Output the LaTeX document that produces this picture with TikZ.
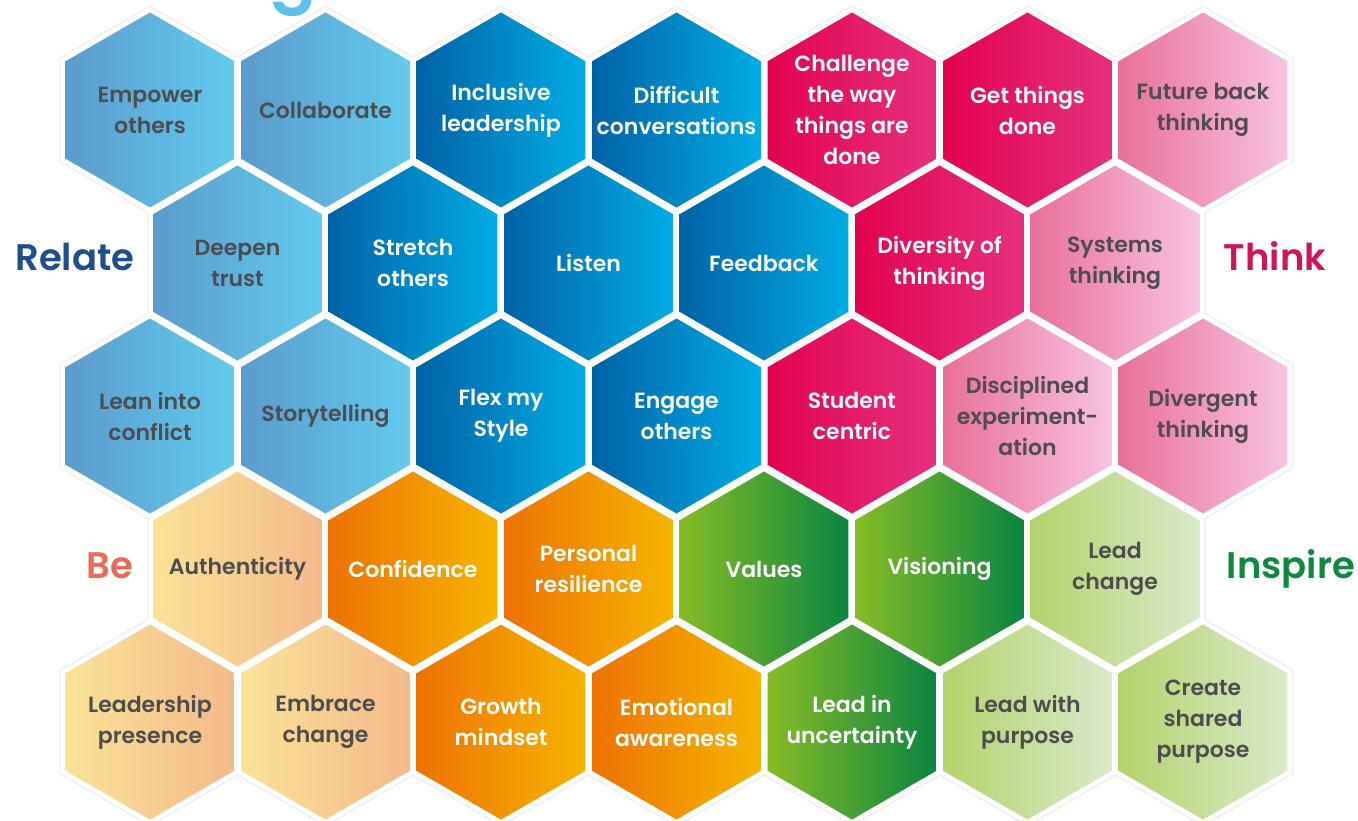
\documentclass[tikz,border=0pt]{standalone}
\usepackage{fontspec}
\setmainfont{Poppins}[UprightFont={* Medium}, BoldFont={* SemiBold}]
\usetikzlibrary{shapes.geometric, backgrounds}

\definecolor{inkgray}{HTML}{4D4D4F}
\definecolor{rimgray}{HTML}{EEEEEE}
\definecolor{relateblue}{HTML}{1F4E8C}
\definecolor{thinkpink}{HTML}{D1135E}
\definecolor{bered}{HTML}{E86A5A}
\definecolor{inspiregreen}{HTML}{0E8A40}
\definecolor{titleblue}{HTML}{5BC0EB}

\begin{document}
\begin{tikzpicture}[
    x=1pt, y=-1pt,
    hex/.style={regular polygon, regular polygon sides=6, shape border rotate=30,
        minimum size=195pt, inner sep=0pt},
    every label/.style={align=center, font=\fontsize{22}{31}\selectfont\bfseries},
    ink/.style={text=inkgray},
    relatesoft/.style={left color={rgb,255:red,91;green,155;blue,203}, right color={rgb,255:red,98;green,203;blue,238}},
    relatedeep/.style={left color={rgb,255:red,0;green,98;blue,166}, right color={rgb,255:red,0;green,172;blue,228}},
    thinkdeep/.style={left color={rgb,255:red,226;green,3;blue,79}, right color={rgb,255:red,229;green,48;blue,127}},
    thinksoft/.style={left color={rgb,255:red,232;green,112;blue,154}, right color={rgb,255:red,248;green,195;blue,225}},
    besoft/.style={left color={rgb,255:red,251;green,226;blue,151}, right color={rgb,255:red,243;green,186;blue,138}},
    bedeep/.style={left color={rgb,255:red,238;green,114;blue,3}, right color={rgb,255:red,246;green,180;blue,0}},
    inspiredeep/.style={left color={rgb,255:red,134;green,188;blue,37}, right color={rgb,255:red,10;green,133;blue,64}},
    inspiresoft/.style={left color={rgb,255:red,178;green,211;blue,108}, right color={rgb,255:red,217;green,234;blue,200}},
    heading/.style={anchor=base, font=\fontsize{37}{40}\selectfont\bfseries}
]
    \useasboundingbox (0,0) rectangle (1358,821);

    % Tail of the title above
    \node[anchor=base, text=titleblue, font=\fontsize{70}{70}\selectfont\bfseries] (title) at (293,-2) {g};

    % Row 1
    \node[hex, relatesoft, label={[ink]center:Empower\\others}] (empower) at (150,110) {};
    \node[hex, relatesoft, label={[ink]center:Collaborate}] (collaborate) at (325.5,110) {};
    \node[hex, relatedeep, label={[text=white]center:Inclusive\\leadership}] (inclusive) at (501,110) {};
    \node[hex, relatedeep, label={[text=white]center:Difficult\\conversations}] (difficult) at (676.5,110) {};
    \node[hex, thinkdeep, label={[text=white]center:Challenge\\the way\\things are\\done}] (challenge) at (852,110) {};
    \node[hex, thinkdeep, label={[text=white]center:Get things\\done}] (getdone) at (1027.5,110) {};
    \node[hex, thinksoft, label={[ink]center:Future back\\thinking}] (futureback) at (1203,110) {};

    % Row 2
    \node[hex, relatesoft, label={[ink]center:Deepen\\trust}] (deepen) at (237.5,263) {};
    \node[hex, relatedeep, label={[text=white]center:Stretch\\others}] (stretch) at (413,263) {};
    \node[hex, relatedeep, label={[text=white]center:Listen}] (listen) at (588.5,263) {};
    \node[hex, relatedeep, label={[text=white]center:Feedback}] (feedback) at (764,263) {};
    \node[hex, thinkdeep, label={[text=white]center:Diversity of\\thinking}] (diversity) at (939.5,263) {};
    \node[hex, thinksoft, label={[ink]center:Systems\\thinking}] (systems) at (1115,263) {};

    % Row 3
    \node[hex, relatesoft, label={[ink]center:Lean into\\conflict}] (leaninto) at (150,416) {};
    \node[hex, relatesoft, label={[ink]center:Storytelling}] (storytelling) at (325.5,416) {};
    \node[hex, relatedeep, label={[text=white]center:Flex my\\Style}] (flex) at (501,416) {};
    \node[hex, relatedeep, label={[text=white]center:Engage\\others}] (engage) at (676.5,416) {};
    \node[hex, thinkdeep, label={[text=white]center:Student\\centric}] (student) at (852,416) {};
    \node[hex, thinksoft, label={[ink]center:Disciplined\\experiment-\\ation}] (disciplined) at (1027.5,416) {};
    \node[hex, thinksoft, label={[ink]center:Divergent\\thinking}] (divergent) at (1203,416) {};

    % Row 4
    \node[hex, besoft, label={[ink]center:Authenticity}] (authenticity) at (237.5,569) {};
    \node[hex, bedeep, label={[text=white]center:Confidence}] (confidence) at (413,569) {};
    \node[hex, bedeep, label={[text=white]center:Personal\\resilience}] (resilience) at (588.5,569) {};
    \node[hex, inspiredeep, label={[text=white]center:Values}] (values) at (764,569) {};
    \node[hex, inspiredeep, label={[text=white]center:Visioning}] (visioning) at (939.5,569) {};
    \node[hex, inspiresoft, label={[ink]center:Lead\\change}] (leadchange) at (1115,569) {};

    % Row 5
    \node[hex, besoft, label={[ink]center:Leadership\\presence}] (presence) at (150,722) {};
    \node[hex, besoft, label={[ink]center:Embrace\\change}] (embrace) at (325.5,722) {};
    \node[hex, bedeep, label={[text=white]center:Growth\\mindset}] (growth) at (501,722) {};
    \node[hex, bedeep, label={[text=white]center:Emotional\\awareness}] (emotional) at (676.5,722) {};
    \node[hex, inspiredeep, label={[text=white]center:Lead in\\uncertainty}] (uncertainty) at (852,722) {};
    \node[hex, inspiresoft, label={[ink]center:Lead with\\purpose}] (purpose) at (1027.5,722) {};
    \node[hex, inspiresoft, label={[ink]center:Create\\shared\\purpose}] (shared) at (1203,722) {};

    % Quadrant headings
    \node[heading, text=relateblue] (relate) at (75,271) {Relate};
    \node[heading, text=thinkpink] (think) at (1275,271) {Think};
    \node[heading, text=bered] (be) at (110,578) {Be};
    \node[heading, text=inspiregreen] (inspire) at (1291,578) {Inspire};

    % Faint rim round the outer cells
    \begin{scope}[on background layer]
        \foreach \row in {0,...,4} {
            \pgfmathsetmacro\shift{mod(\row,2)*87.75}
            \pgfmathtruncatemacro\cells{6-mod(\row,2)}
            \foreach \col in {0,...,\cells}
                \fill[rimgray] (150+\shift+175.5*\col, 110+153*\row)
                    +(30:104.5) -- +(90:104.5) -- +(150:104.5) -- +(210:104.5) -- +(270:104.5) -- +(330:104.5) -- cycle;
        }
        \foreach \row in {0,...,4} {
            \pgfmathsetmacro\shift{mod(\row,2)*87.75}
            \pgfmathtruncatemacro\cells{6-mod(\row,2)}
            \foreach \col in {0,...,\cells}
                \fill[white] (150+\shift+175.5*\col, 110+153*\row)
                    +(30:102.8) -- +(90:102.8) -- +(150:102.8) -- +(210:102.8) -- +(270:102.8) -- +(330:102.8) -- cycle;
        }
    \end{scope}
\end{tikzpicture}
\end{document}
